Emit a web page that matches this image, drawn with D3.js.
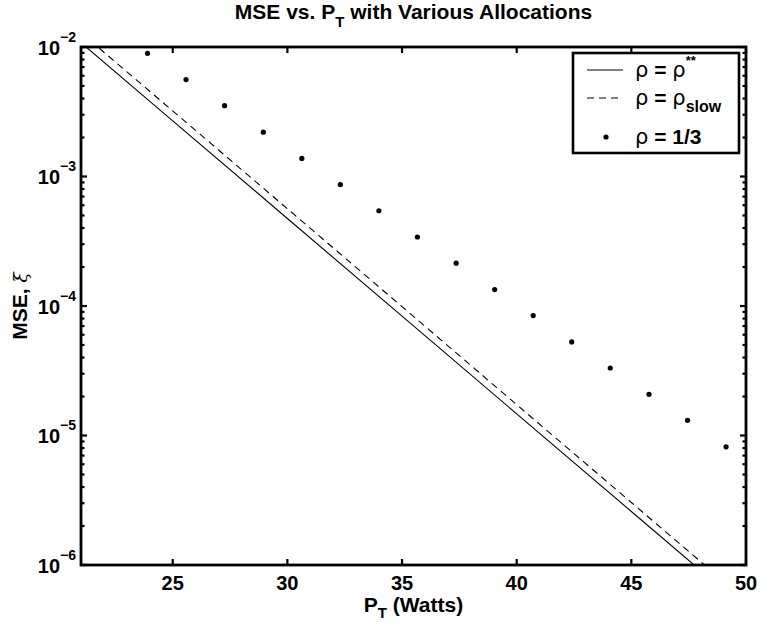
<!DOCTYPE html>
<html>
<head>
<meta charset="utf-8">
<script src="https://cdn.jsdelivr.net/npm/d3@7"></script>
<style>
  body { margin: 0; background: #fff; }
  svg { display: block; }
  text { font-family: "Liberation Sans", Arial, Helvetica, sans-serif; font-weight: bold; fill: #000; }
</style>
</head>
<body>
<svg id="chart" width="762" height="625"></svg>
<script>
// Transmit power grid (Watts) for the two continuous allocation curves
const powerGrid = [21, 25, 30, 35, 40, 45, 50];
// MSE with the optimal allocation rho = rho**
const mseOptimal = [1.08e-2, 2.69e-3, 4.74e-4, 8.35e-5, 1.47e-5, 2.59e-6, 4.56e-7];
// MSE with the slow allocation rho = rho_slow
const mseSlow = [1.29e-2, 3.21e-3, 5.64e-4, 9.89e-5, 1.73e-5, 3.04e-6, 5.33e-7];

// Equal allocation rho = 1/3, evaluated at discrete powers
const powerEqual = [23.90, 25.58, 27.26, 28.95, 30.63, 32.31, 33.99, 35.67,
                    37.36, 39.04, 40.72, 42.40, 44.08, 45.77, 47.45, 49.13];
const mseEqual = [8.93e-3, 5.60e-3, 3.52e-3, 2.20e-3, 1.38e-3, 8.67e-4, 5.44e-4, 3.41e-4,
                  2.14e-4, 1.34e-4, 8.43e-5, 5.28e-5, 3.32e-5, 2.08e-5, 1.31e-5, 8.18e-6];

// Axis ticks
const xTicks = [25, 30, 35, 40, 45, 50];
const yTickExponents = [-2, -3, -4, -5, -6];

const plot = { left: 81, right: 746, top: 47, bottom: 565 };

const svg = d3.select("#chart");

const x = d3.scaleLinear().domain([21, 50]).range([plot.left, plot.right]);
const y = d3.scaleLog().domain([1e-6, 1e-2]).range([plot.bottom, plot.top]);

svg.append("defs").append("clipPath").attr("id", "plotClip")
  .append("rect")
  .attr("x", plot.left).attr("y", plot.top)
  .attr("width", plot.right - plot.left).attr("height", plot.bottom - plot.top);

const dataLayer = svg.append("g").attr("clip-path", "url(#plotClip)");

const line = d3.line().x(d => x(d[0])).y(d => y(d[1]));

dataLayer.append("path")
  .datum(d3.zip(powerGrid, mseOptimal))
  .attr("d", line)
  .attr("fill", "none").attr("stroke", "#000").attr("stroke-width", 1.1);

dataLayer.append("path")
  .datum(d3.zip(powerGrid, mseSlow))
  .attr("d", line)
  .attr("fill", "none").attr("stroke", "#000").attr("stroke-width", 1.1)
  .attr("stroke-dasharray", "7,5");

dataLayer.selectAll("circle.eq")
  .data(d3.zip(powerEqual, mseEqual))
  .join("circle")
  .attr("class", "eq")
  .attr("cx", d => x(d[0])).attr("cy", d => y(d[1]))
  .attr("r", 2.6).attr("fill", "#000");

// Axes: ticks point inward on all four sides (boxed axes)
const majorLen = 6, minorLen = 3.5;
const axisG = svg.append("g").attr("stroke", "#000");

// x ticks (bottom and top)
xTicks.forEach(t => {
  const px = x(t);
  axisG.append("line").attr("x1", px).attr("x2", px)
    .attr("y1", plot.bottom).attr("y2", plot.bottom - majorLen).attr("stroke-width", 2.2);
  axisG.append("line").attr("x1", px).attr("x2", px)
    .attr("y1", plot.top).attr("y2", plot.top + majorLen).attr("stroke-width", 2.2);
});

// y ticks: majors at decades, minors at 2..9 within each decade
const yMinor = [];
for (let e = -6; e < -2; e++) {
  for (let m = 2; m <= 9; m++) yMinor.push(m * Math.pow(10, e));
}
yTickExponents.forEach(e => {
  const py = y(Math.pow(10, e));
  axisG.append("line").attr("x1", plot.left).attr("x2", plot.left + majorLen)
    .attr("y1", py).attr("y2", py).attr("stroke-width", 2.2);
  axisG.append("line").attr("x1", plot.right).attr("x2", plot.right - majorLen)
    .attr("y1", py).attr("y2", py).attr("stroke-width", 2.2);
});
yMinor.forEach(v => {
  const py = y(v);
  axisG.append("line").attr("x1", plot.left).attr("x2", plot.left + minorLen)
    .attr("y1", py).attr("y2", py).attr("stroke-width", 2.2);
  axisG.append("line").attr("x1", plot.right).attr("x2", plot.right - minorLen)
    .attr("y1", py).attr("y2", py).attr("stroke-width", 2.2);
});

// Box
svg.append("rect")
  .attr("x", plot.left).attr("y", plot.top)
  .attr("width", plot.right - plot.left).attr("height", plot.bottom - plot.top)
  .attr("fill", "none").attr("stroke", "#000").attr("stroke-width", 2.8);

// x tick labels
svg.append("g").selectAll("text")
  .data(xTicks)
  .join("text")
  .attr("x", d => x(d)).attr("y", plot.bottom + 25)
  .attr("text-anchor", "middle")
  .attr("font-size", 20)
  .text(d => d);

// y tick labels as 10^e
const yLab = svg.append("g").selectAll("text")
  .data(yTickExponents)
  .join("text")
  .attr("x", plot.left - 5)
  .attr("y", d => y(Math.pow(10, d)) + 7.5)
  .attr("text-anchor", "end")
  .attr("font-size", 20);
yLab.append("tspan").text("10");
yLab.append("tspan").attr("dy", -13).attr("font-size", 14).text(d => "\u2212" + Math.abs(d));

// Title
const title = svg.append("text")
  .attr("x", (plot.left + plot.right) / 2).attr("y", 19)
  .attr("text-anchor", "middle").attr("font-size", 21);
title.append("tspan").text("MSE vs. P");
title.append("tspan").attr("dy", 8).attr("font-size", 15).text("T");
title.append("tspan").attr("dy", -8).text(" with Various Allocations");

// x label
const xl = svg.append("text")
  .attr("x", (plot.left + plot.right) / 2).attr("y", 612)
  .attr("text-anchor", "middle").attr("font-size", 21);
xl.append("tspan").text("P");
xl.append("tspan").attr("dy", 6).attr("font-size", 15).text("T");
xl.append("tspan").attr("dy", -6).text(" (Watts)");

// y label
const yl = svg.append("text")
  .attr("transform", `translate(27,${(plot.top + plot.bottom) / 2}) rotate(-90)`)
  .attr("text-anchor", "middle").attr("font-size", 21);
yl.append("tspan").text("MSE, ");
yl.append("tspan").attr("font-family", "DejaVu Serif").attr("font-style", "italic")
  .attr("font-weight", "normal").attr("font-size", 19).text("\u03BE");

// Legend
const legend = svg.append("g");
legend.append("rect")
  .attr("x", 573).attr("y", 53).attr("width", 166).attr("height", 100)
  .attr("fill", "#fff").attr("stroke", "#000").attr("stroke-width", 2.6);

const legendRows = [
  { y: 70, kind: "solid" },
  { y: 98, kind: "dashed" },
  { y: 137, kind: "dot" }
];
legendRows.forEach(r => {
  if (r.kind === "dot") {
    legend.append("circle").attr("cx", 606).attr("cy", r.y).attr("r", 2.6).attr("fill", "#000");
  } else {
    legend.append("line").attr("x1", 587).attr("x2", 623).attr("y1", r.y).attr("y2", r.y)
      .attr("stroke", "#000").attr("stroke-width", 1.1)
      .attr("stroke-dasharray", r.kind === "dashed" ? "7,5" : null);
  }
});

function rho(t) {
  return t.append("tspan").attr("font-family", "DejaVu Sans").attr("font-weight", "normal").text("\u03C1");
}
// Row 1: rho = rho**
const l1 = legend.append("text").attr("x", 635).attr("y", 77).attr("font-size", 21);
rho(l1); l1.append("tspan").text(" = "); rho(l1);
l1.append("tspan").attr("dy", -12).attr("font-size", 13).text("**");
// Row 2: rho = rho_slow
const l2 = legend.append("text").attr("x", 635).attr("y", 105).attr("font-size", 21);
rho(l2); l2.append("tspan").text(" = "); rho(l2);
l2.append("tspan").attr("dy", 7).attr("font-size", 16).text("slow");
// Row 3: rho = 1/3
const l3 = legend.append("text").attr("x", 635).attr("y", 144).attr("font-size", 21);
rho(l3); l3.append("tspan").text(" = 1/3");
</script>
</body>
</html>
